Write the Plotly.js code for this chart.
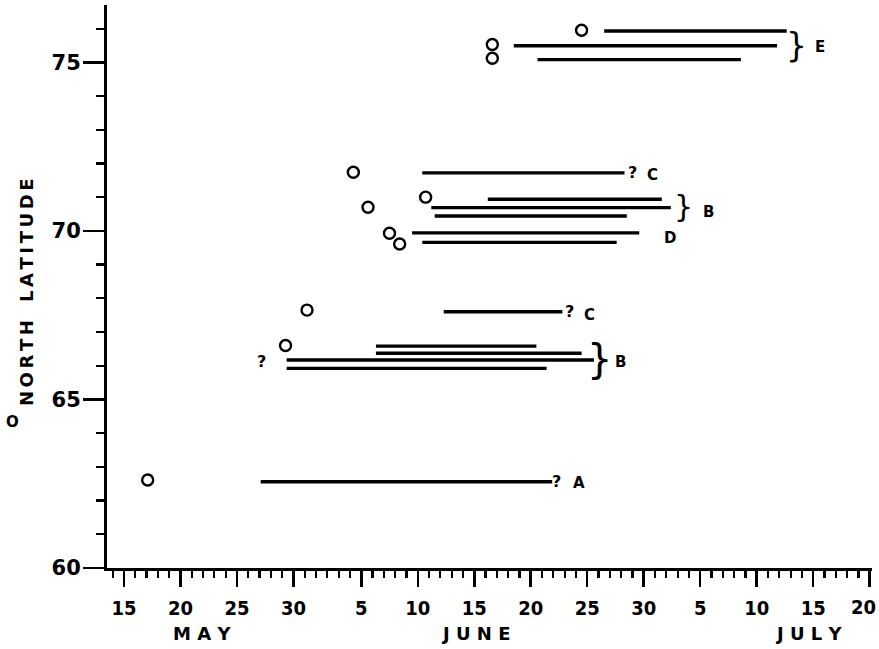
<!DOCTYPE html>
<html>
<head>
<meta charset="utf-8">
<script src="https://cdn.plot.ly/plotly-3.0.1.min.js"></script>
<style>html,body{margin:0;padding:0;background:#fff;}</style>
</head>
<body>
<div id="chart" style="width:879px;height:649px;"></div>
<script>
// Day index: May d = d, June d = 31 + d, July d = 61 + d
const tickDays   = [15, 20, 25, 30, 36, 41, 46, 51, 56, 61, 66, 71, 76, 81];
const tickLabels = ['15','20','25','30','5','10','15','20','25','30','5','10','15','20'];
const monthNames = ['M A Y', 'J U N E', 'J U L Y'];
const monthDays  = [21.9, 46.1, 75.6];

// Observation circles (day, latitude)
const obsDay = [17.1, 29.3, 31.2, 35.3, 36.6, 38.5, 39.4, 41.7, 47.6, 47.6, 55.5];
const obsLat = [62.61, 66.6, 67.65, 71.74, 70.70, 69.93, 69.61, 71.0, 75.53, 75.12, 75.95];

// Horizontal period lines
const segStart = [27.1, 37.3, 37.3, 29.4, 29.4, 43.3, 40.5, 41.4, 47.2, 42.2, 42.5, 41.4, 57.5, 49.5, 51.6];
const segEnd   = [52.9, 51.5, 55.5, 56.6, 52.4, 53.8, 60.6, 58.6, 62.6, 63.4, 59.5, 59.3, 73.65, 72.8, 69.6];
const segLat   = [62.56, 66.58, 66.37, 66.17, 65.92, 67.6, 69.94, 69.66, 70.94, 70.69, 70.44, 71.72, 75.93, 75.49, 75.08];

// Question marks
const qDay = [53.3, 54.4, 60.0, 27.2];
const qLat = [62.58, 67.62, 71.72, 66.12];

// Group letters
const grpText = ['A', 'B', 'C', 'D', 'B', 'C', 'E'];
const grpDay  = [55.3, 58.9, 56.2, 63.3, 66.7, 61.8, 76.6];
const grpLat  = [62.53, 66.12, 67.5, 69.78, 70.56, 71.65, 75.45];

// Braces
const braceDay  = [57.1, 64.5, 74.5];
const braceLat  = [66.19, 70.72, 75.5];
const braceSize = [40, 30, 33];

const yTitle = 'NORTH LATITUDE';

const segX = [], segY = [];
segStart.forEach((s, i) => { segX.push(s, segEnd[i], null); segY.push(segLat[i], segLat[i], null); });

const FONT = 'DejaVu Sans, Liberation Sans, sans-serif';
const XFONT = 'DejaVu Sans Condensed, DejaVu Sans, sans-serif';
const TS = '\u2009';
const spaced = s => s.split('').map(c => c === ' ' ? TS + TS + TS : c).join(TS);

// last tick label is drawn as an annotation pulled slightly left so it stays inside the page
const lastIdx = tickLabels.length - 1;
const shownTickText = tickLabels.map((t, i) => i === lastIdx ? '' : t);

const annotations = [];
qDay.forEach((d, i) => annotations.push({x: d, y: qLat[i], xref: 'x', yref: 'y', text: '<b>?</b>', showarrow: false,
  font: {family: FONT, size: 16, color: '#000'}}));
grpText.forEach((t, i) => annotations.push({x: grpDay[i], y: grpLat[i], xref: 'x', yref: 'y', text: '<b>' + t + '</b>', showarrow: false,
  font: {family: FONT, size: 15, color: '#000'}}));
braceDay.forEach((d, i) => annotations.push({x: d, y: braceLat[i], xref: 'x', yref: 'y', text: '}', showarrow: false,
  font: {family: FONT, size: braceSize[i], color: '#000'}}));
monthNames.forEach((m, i) => annotations.push({x: monthDays[i], y: 0, xref: 'x', yref: 'paper', yanchor: 'top', yshift: -53,
  text: '<b>' + m + '</b>', showarrow: false, font: {family: FONT, size: 18, color: '#000'}}));
annotations.push({x: tickDays[lastIdx], y: 0, xref: 'x', yref: 'paper', xanchor: 'center', yanchor: 'middle', xshift: -6, yshift: -39,
  text: tickLabels[lastIdx], showarrow: false, font: {family: XFONT, size: 20, color: '#000', weight: 'bold'}});
annotations.push({x: -0.106, y: 0.49, xref: 'paper', yref: 'paper', xanchor: 'center', yanchor: 'middle', textangle: -90, showarrow: false,
  text: '<b>' + spaced(yTitle) + '</b>', font: {family: FONT, size: 18, color: '#000'}});
annotations.push({x: -0.123, y: 0.259, xref: 'paper', yref: 'paper', xanchor: 'center', yanchor: 'middle', showarrow: false,
  text: '<b>O</b>', font: {family: FONT, size: 15, color: '#000'}});

const traces = [
  {x: segX, y: segY, mode: 'lines', type: 'scatter', line: {color: '#000', width: 3.4}, hoverinfo: 'skip'},
  {x: obsDay, y: obsLat, mode: 'markers', type: 'scatter',
   marker: {symbol: 'circle-open', size: 11, color: '#000', line: {width: 2.4, color: '#000'}}}
];

const layout = {
  width: 879, height: 649,
  margin: {l: 107, r: 7, t: 5, b: 81},
  paper_bgcolor: '#fff', plot_bgcolor: '#fff',
  showlegend: false,
  xaxis: {
    range: [13.5, 81.2], showgrid: false, zeroline: false,
    showline: true, linecolor: '#000', linewidth: 3,
    tickmode: 'array', tickvals: tickDays, ticktext: shownTickText,
    ticks: 'outside', ticklen: 16, tickwidth: 2.5, tickcolor: '#000',
    ticklabelstandoff: 4,
    tickfont: {family: XFONT, size: 20, color: '#000', weight: 'bold'},
    minor: {tickmode: 'linear', tick0: 0, dtick: 1, ticks: 'outside', ticklen: 7, tickwidth: 2.2, tickcolor: '#000', showgrid: false}
  },
  yaxis: {
    range: [60, 76.7], showgrid: false, zeroline: false,
    showline: true, linecolor: '#000', linewidth: 3,
    tickmode: 'linear', tick0: 60, dtick: 5,
    ticks: 'outside', ticklen: 21, tickwidth: 2.5, tickcolor: '#000',
    ticklabelstandoff: -2,
    tickfont: {family: FONT, size: 21, color: '#000', weight: 'bold'},
    minor: {tickmode: 'linear', tick0: 60, dtick: 1, ticks: 'outside', ticklen: 8, tickwidth: 2.2, tickcolor: '#000', showgrid: false}
  },
  annotations: annotations
};

Plotly.newPlot('chart', traces, layout, {staticPlot: true, displayModeBar: false});
</script>
</body>
</html>
